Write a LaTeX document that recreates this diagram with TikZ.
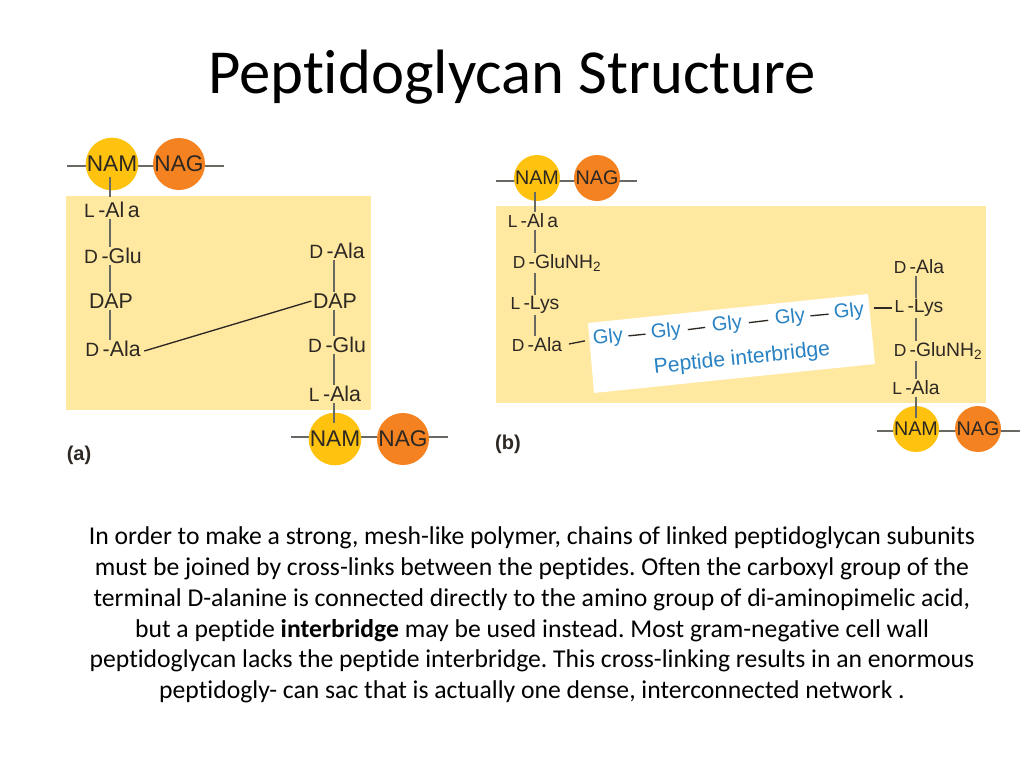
\documentclass[tikz,border=0pt]{standalone}
\usepackage{fontspec}
\setmainfont[Ligatures=NoCommon]{Carlito}
\newfontfamily\labelfont{Liberation Sans}
\definecolor{namfill}{RGB}{255,194,14}
\definecolor{nagfill}{RGB}{245,130,32}
\definecolor{wallfill}{RGB}{255,232,160}
\definecolor{bondgrey}{RGB}{105,105,100}
\definecolor{glyblue}{RGB}{40,130,195}
\definecolor{labelink}{RGB}{45,40,35}
\tikzset{
  wall/.style={fill=wallfill,draw=none},
  sugarbig/.style={circle,minimum size=52*0.75pt,inner sep=0pt,text=labelink,font=\labelfont\fontsize{17}{18}\selectfont},
  sugarsmall/.style={circle,minimum size=46*0.75pt,inner sep=0pt,text=labelink,font=\labelfont\fontsize{14.8}{15}\selectfont},
  acidbig/.style={inner sep=1pt,text=labelink,font=\labelfont\fontsize{16}{17}\selectfont},
  acidsmall/.style={inner sep=1pt,text=labelink,font=\labelfont\fontsize{14.5}{15}\selectfont},
  glynode/.style={inner sep=2pt,rotate=6,text=glyblue,font=\labelfont\fontsize{15}{16}\selectfont},
  bridgenode/.style={inner sep=2pt,rotate=6,text=glyblue,font=\labelfont\fontsize{15.8}{16}\selectfont},
  bond/.style={draw=bondgrey,line width=1.2pt},
  crosslink/.style={draw=labelink,line width=1pt},
  partlabel/.style={inner sep=0pt,text=labelink,font=\labelfont\bfseries\fontsize{15}{16}\selectfont}
}
\newcommand{\isoacid}[2]{{\fontsize{0.9em}{1em}\selectfont #1}\,-#2}
\begin{document}
\begin{tikzpicture}[x=0.75pt,y=0.75pt,yscale=-1,xscale=1]
\useasboundingbox (0,0) rectangle (1024,768);

% Title
\node (title) at (512,77) [inner sep=0pt,font=\fontsize{47}{50}\selectfont] {Peptidoglycan Structure};

% Panel a: background
\fill[wall] (66,196) rectangle (371,410);
% Panel b: background
\fill[wall] (496,206) rectangle (986,403);
\fill[white] (588,323) -- (868,294) -- (875,364) -- (594,393) -- cycle;

% Backbones
\coordinate (leftA) at (67,166);
\coordinate (rightA) at (224,166);
\coordinate (leftB) at (291,437);
\coordinate (rightB) at (448,437);
\coordinate (leftC) at (496,181);
\coordinate (rightC) at (637,181);
\coordinate (leftD) at (877,431);
\coordinate (rightD) at (1020,431);
\draw[bond] (leftA) -- (rightA);
\draw[bond] (leftB) -- (rightB);
\draw[bond] (leftC) -- (rightC);
\draw[bond] (leftD) -- (rightD);

% Sugars
\node (namA) at (112,164) [sugarbig,fill=namfill] {NAM};
\node (nagA) at (179,164) [sugarbig,fill=nagfill] {NAG};
\node (namB) at (335,439) [sugarbig,fill=namfill] {NAM};
\node (nagB) at (403,439) [sugarbig,fill=nagfill] {NAG};
\node (namC) at (537,178) [sugarsmall,fill=namfill] {NAM};
\node (nagC) at (597,178) [sugarsmall,fill=nagfill] {NAG};
\node (namD) at (916,429) [sugarsmall,fill=namfill] {NAM};
\node (nagD) at (978,429) [sugarsmall,fill=nagfill] {NAG};

% Bond starts
\coordinate (stemA) at (110,177);
\coordinate (stemB) at (334,423);
\coordinate (stemC) at (535,192);
\coordinate (stemD) at (916,418);

% Panel a: peptides
\node (alaA) at (112,210) [acidbig] {\isoacid{L}{Al\,a}};
\node (gluA) at (113,256) [acidbig] {\isoacid{D}{Glu}};
\node (dapA) at (111,301) [acidbig] {DAP};
\node (endA) at (113,349) [acidbig] {\isoacid{D}{Ala}};
\node (endB) at (337,251) [acidbig] {\isoacid{D}{Ala}};
\node (dapB) at (335,301) [acidbig] {DAP};
\node (gluB) at (337,345) [acidbig] {\isoacid{D}{Glu}};
\node (alaB) at (335,394) [acidbig] {\isoacid{L}{Ala}};

\draw[bond,shorten >=3pt] (stemA) -- (stemA |- alaA.north);
\draw[bond] (alaA.south -| stemA) -- (gluA.north -| stemA);
\draw[bond] (gluA.south -| stemA) -- (dapA.north -| stemA);
\draw[bond] (dapA.south -| stemA) -- (endA.north -| stemA);
\draw[bond] (endB.south -| stemB) -- (dapB.north -| stemB);
\draw[bond] (dapB.south -| stemB) -- (gluB.north -| stemB);
\draw[bond] (gluB.south -| stemB) -- (alaB.north -| stemB);
\draw[bond] (alaB.south -| stemB) -- (stemB);
\draw[crosslink] (endA.east) ++(2,2) -- (dapB.west);

% Panel b: peptides
\node (alaC) at (533,221) [acidsmall] {\isoacid{L}{Al\,a}};
\node (gluC) at (557,263) [acidsmall] {\isoacid{D}{GluNH\textsubscript{2}}};
\node (lysC) at (535,305) [acidsmall] {\isoacid{L}{Lys}};
\node (endC) at (537,345) [acidsmall] {\isoacid{D}{Ala}};
\node (endD) at (919,267) [acidsmall] {\isoacid{D}{Ala}};
\node (lysD) at (919,308) [acidsmall] {\isoacid{L}{Lys}};
\node (gluD) at (938,351) [acidsmall] {\isoacid{D}{GluNH\textsubscript{2}}};
\node (alaD) at (916,388) [acidsmall] {\isoacid{L}{Ala}};

\draw[bond] (stemC) -- (stemC |- alaC.north);
\draw[bond] (alaC.south -| stemC) -- (gluC.north -| stemC);
\draw[bond] (gluC.south -| stemC) -- (lysC.north -| stemC);
\draw[bond] (lysC.south -| stemC) -- (endC.north -| stemC);
\draw[bond] (endD.south -| stemD) -- (lysD.north -| stemD);
\draw[bond] (lysD.south -| stemD) -- (gluD.north -| stemD);
\draw[bond] (gluD.south -| stemD) -- (alaD.north -| stemD);
\draw[bond] (alaD.south -| stemD) -- (stemD);

% Interbridge
\node (glyA) at (608,338) [glynode] {Gly};
\node (glyB) at (666,332) [glynode] {Gly};
\node (glyC) at (727,325) [glynode] {Gly};
\node (glyD) at (790,318) [glynode] {Gly};
\node (glyE) at (849,312) [glynode] {Gly};
\node (bridge) at (742,359) [bridgenode] {Peptide interbridge};

\draw[crosslink,shorten <=4pt,shorten >=4pt] (endC.east) -- (glyA.west);
\draw[crosslink,shorten <=2pt,shorten >=2pt] (glyA.east) -- (glyB.west);
\draw[crosslink,shorten <=3pt,shorten >=3pt] (glyB.east) -- (glyC.west);
\draw[crosslink,shorten <=3pt,shorten >=3pt] (glyC.east) -- (glyD.west);
\draw[crosslink,shorten <=2pt,shorten >=2pt] (glyD.east) -- (glyE.west);
\draw[crosslink,shorten <=5pt,shorten >=1pt] (glyE.east |- lysD.west) -- (lysD.west);

% Panel tags
\node (tagA) at (79,455) [partlabel] {(a)};
\node (tagB) at (508,444) [partlabel] {(b)};

% Caption
\node (caption) at (532,615) [inner sep=0pt,align=center,font=\fontsize{19.25}{23.1}\selectfont\frenchspacing] {In order to make a strong, mesh-like polymer, chains of linked peptidoglycan subunits\\
must be joined by cross-links between the peptides. Often the carboxyl group of the\\
terminal D-alanine is connected directly to the amino group of di-aminopimelic acid,\\
but a peptide \textbf{interbridge} may be used instead. Most gram-negative cell wall\\
peptidoglycan lacks the peptide interbridge. This cross-linking results in an enormous\\
peptidogly- can sac that is actually one dense, interconnected network .};

\end{tikzpicture}
\end{document}
